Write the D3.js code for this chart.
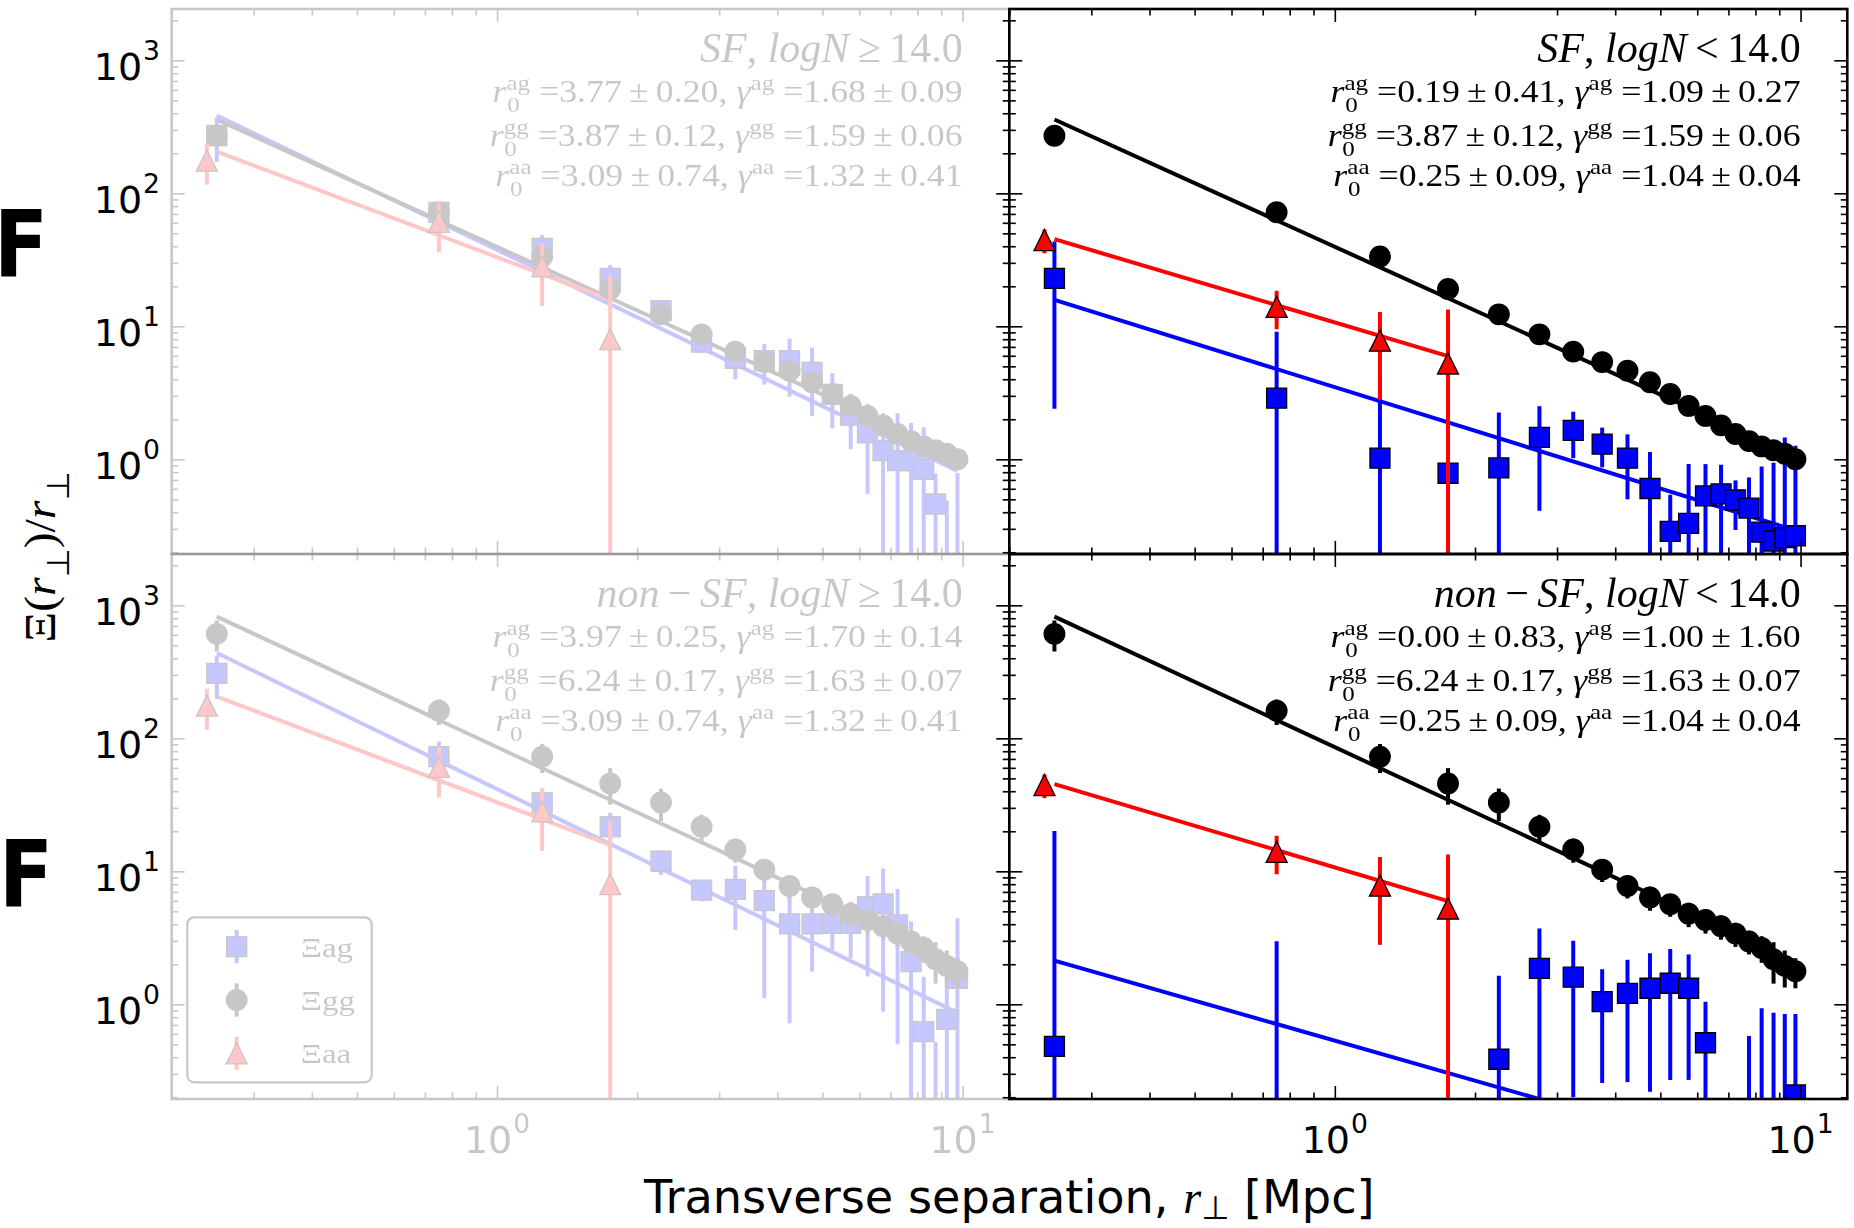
<!DOCTYPE html>
<html>
<head>
<meta charset="utf-8">
<script src="https://cdn.jsdelivr.net/npm/d3@7"></script>
<style>
  html, body { margin: 0; padding: 0; background: #fff; }
  svg { display: block; }
  svg text { white-space: pre; }
</style>
</head>
<body>
<script>
// ---------------------------------------------------------------------------
// Projected cross-correlation Ξ(r⊥)/r⊥ for absorber–galaxy (ag),
// galaxy–galaxy (gg) and absorber–absorber (aa) pairs.
// Panels: [SF, logN≥14] [SF, logN<14] / [non-SF, logN≥14] [non-SF, logN<14]
// ---------------------------------------------------------------------------

// transverse separation bins [Mpc]
const rBins = [0.25, 0.75, 1.25, 1.75, 2.25, 2.75, 3.25, 3.75, 4.25, 4.75,
               5.25, 5.75, 6.25, 6.75, 7.25, 7.75, 8.25, 8.75, 9.25, 9.75];
const rBinsAA = [0.238, 0.75, 1.25, 1.75];

// galaxy–galaxy, SF sample (top row) and non-SF sample (bottom row)
const ggSF     = [271, 72, 33.5, 19.1, 12.3, 8.7, 6.45, 5.38, 4.63, 3.8,
                  3.1, 2.52, 2.12, 1.8, 1.55, 1.37, 1.25, 1.17, 1.1, 1.0];
const ggSFErr  = [30, 6, 3, 1.5, 0.8, 0.5, 0.35, 0.25, 0.2, 0.15,
                  0.12, 0.1, 0.08, 0.07, 0.06, 0.05, 0.05, 0.05, 0.04, 0.04];
const ggNon    = [610, 161, 72.8, 45.7, 32.9, 21.6, 14.6, 10.3, 7.75, 6.35,
                  5.65, 4.8, 4.3, 3.86, 3.4, 2.97, 2.65, 2.18, 1.94, 1.77];
const ggNonErr = [160, 35, 18, 14, 9, 5, 3, 2, 1.5, 1.3,
                  1.1, 1.0, 0.9, 0.8, 0.7, 0.6, 0.6, 0.75, 0.6, 0.45];

// absorber–absorber, high (left column) and low (right column) column density
const aaHigh    = [176, 61, 28.2, 8.0];
const aaHighErr = [60, 25, 14, 16];
const aaLow     = [44.5, 14.0, 7.8, 5.25];
const aaLowErr  = [9, 4.5, 5.0, 8.1];

// absorber–galaxy, one set per panel (null = no measurement)
const agSFHigh     = [272, 72, 38.6, 22.9, 13.1, 7.6, 5.75, 5.51, 5.51, 4.51,
                      3.08, 2.15, 1.58, 1.16, 0.976, 0.976, 0.841, 0.461, 0.1, 0.1];
const agSFHighErr  = [100, 10, 10, 6, 2.4, 1.3, 1.75, 1.86, 2.55, 2.4,
                      1.37, 0.96, 1.03, 1.06, 1.24, 0.9, 0.9, 0.32, 0.39, 0.69];
const agSFLow      = [22.9, 2.88, 1.02, 0.785, 0.861, 1.46, 1.65, 1.30, 1.02, 0.603,
                      0.287, 0.330, 0.53, 0.55, 0.494, 0.43, 0.283, 0.243, 0.258, 0.266];
const agSFLowErr   = [20.5, 6.2, 3.15, 1.84, 1.39, 1.05, 0.63, 0.43, 0.52, 0.53,
                      0.255, 0.59, 0.39, 0.36, 0.2, 0.3, 0.6, 0.7, 1.2, 1.0];
const agNonHigh    = [308, 72.8, 32.7, 21.6, 11.9, 7.23, 7.32, 6.01, 4.02, 4.02,
                      4.06, 4.06, 5.42, 5.68, 3.95, 2.09, 0.622, 0.1, 0.771, 1.57];
const agNonHighErr = [110, 22, 9, 6, 2.5, 1.3, 3.7, 4.9, 3.3, 2.26,
                      1.5, 1.84, 3.8, 4.8, 3.45, 2.1, 0.99, 0.42, 0.75, 2.86];
const agNonLow     = [0.483, 0.1, null, null, 0.386, 1.86, 1.60, 1.046, 1.21, 1.32,
                      1.44, 1.32, 0.514, null, null, 0.1, 0.1, 0.1, 0.1, 0.208];
const agNonLowErr  = [19.6, 2.88, null, null, 1.25, 1.86, 1.40, 0.79, 0.95, 1.1,
                      1.17, 1.05, 0.53, null, null, 0.478, 0.833, 0.765, 0.745, 0.637];

// power-law fits, panel order: SF-high, SF-low, nonSF-high, nonSF-low
const r0Ag     = [3.77, 0.19, 3.97, 0.00];
const r0AgErr  = [0.20, 0.41, 0.25, 0.83];
const gamAg    = [1.68, 1.09, 1.70, 1.00];
const gamAgErr = [0.09, 0.27, 0.14, 1.60];
const r0Gg     = [3.87, 3.87, 6.24, 6.24];
const r0GgErr  = [0.12, 0.12, 0.17, 0.17];
const gamGg    = [1.59, 1.59, 1.63, 1.63];
const gamGgErr = [0.06, 0.06, 0.07, 0.07];
const r0Aa     = [3.09, 0.25, 3.09, 0.25];
const r0AaErr  = [0.74, 0.09, 0.74, 0.09];
const gamAa    = [1.32, 1.04, 1.32, 1.04];
const gamAaErr = [0.41, 0.04, 0.41, 0.04];
// fitted Ξ/r⊥ at the first bin (r⊥ = 0.25 Mpc)
const ampAg = [385, 15.8, 438, 2.13];
const ampGg = [359, 359, 822, 822];
const ampAa = [206, 45.2, 206, 45.2];

// panel labels
const sampleNames = ['SF', 'SF', 'non−SF', 'non−SF'];
const densityCuts = ['≥', '<', '≥', '<'];
const densityLimit = '14.0';

// axis ticks
const xMajor = [1, 10];
const xMinor = [0.2, 0.3, 0.4, 0.5, 0.6, 0.7, 0.8, 0.9, 2, 3, 4, 5, 6, 7, 8, 9];
const xTickExp = ['0', '1'];
const yMajor = [1, 10, 100, 1000];
const yMinor = [0.2, 0.3, 0.4, 0.5, 0.6, 0.7, 0.8, 0.9,
                2, 3, 4, 5, 6, 7, 8, 9, 20, 30, 40, 50, 60, 70, 80, 90,
                200, 300, 400, 500, 600, 700, 800, 900, 2000];
const yTickExp = ['0', '1', '2', '3'];
const legendKeys = ['ag', 'gg', 'aa'];

// ---------------------------------------------------------------------------
const W = 1854, H = 1228;
const SERIF = "'Liberation Serif', 'DejaVu Serif', serif";
const SANS = "'DejaVu Sans', 'Liberation Sans', sans-serif";
const xDomain = [0.2, 12.6];
const yDomain = [0.194, 2432];
const colX = [[171.7, 1009.3], [1009.3, 1847.3]];
const rowY = [[9, 554], [554, 1099]];
const FADE = 0.22;
const COLORS = { ag: '#0000ff', gg: '#000000', aa: '#ff0000' };
const SHAPES = { ag: 'square', gg: 'circle', aa: 'triangle' };

const svg = d3.select('body').append('svg')
  .attr('width', W).attr('height', H)
  .attr('viewBox', `0 0 ${W} ${H}`);
const defs = svg.append('defs');

// lays out a run of text pieces (with optional stacked sub/superscripts)
// starting at x = 0 on the baseline; returns the group and its width
function mathRun(parent, pieces, size, family) {
  const g = parent.append('g');
  let x = 0;
  for (const p of pieces) {
    if (p.gap) { x += p.gap * size; continue; }
    if (p.sup !== undefined || p.sub !== undefined) {
      let w = 0;
      const ss = size * 0.7;
      if (p.sup) {
        const t = g.append('text').attr('x', x).attr('y', -size * 0.40)
          .attr('font-size', ss).attr('font-family', p.fam || SERIF).text(p.sup);
        w = Math.max(w, t.node().getComputedTextLength());
      }
      if (p.sub) {
        const dy = p.subDy !== undefined ? p.subDy : 0.32;
        const t = g.append('text').attr('x', x + (p.subDx || 0) * size).attr('y', size * dy)
          .attr('font-size', ss).attr('font-family', p.fam || SERIF).text(p.sub);
        w = Math.max(w, t.node().getComputedTextLength() + (p.subDx || 0) * size);
      }
      x += w;
      continue;
    }
    const t = g.append('text').attr('x', x)
      .attr('font-size', size)
      .attr('font-family', p.fam || family)
      .attr('font-style', p.it ? 'italic' : 'normal')
      .text(p.t);
    x += t.node().getComputedTextLength();
  }
  return { g, width: x };
}

// right-aligns a run at xr on baseline yb, optionally widened by sx
function placeRight(run, xr, yb, sx = 1) {
  run.g.attr('transform', `translate(${xr - run.width * sx},${yb}) scale(${sx},1)`);
}

function markerPath(shape, size) {
  const h = size / 2;
  if (shape === 'square') return `M${-h},${-h}H${h}V${h}H${-h}Z`;
  if (shape === 'triangle') return `M0,${-h}L${h},${h}L${-h},${h}Z`;
  return d3.symbol().type(d3.symbolCircle).size(Math.PI * h * h)();
}
const MSIZE = { square: 20, circle: 20.6, triangle: 21 };

function styleAxis(sel, color, width) {
  sel.select('.domain').remove();
  sel.selectAll('.tick text').remove();
  sel.selectAll('.tick line').attr('stroke', color).attr('stroke-width', width);
}

function drawTicks(root, x, y, box, color, inoutLeft) {
  const [x0, x1, y0, y1] = box;
  const dom = v => v >= yDomain[0] && v <= yDomain[1];
  const yMin = yMinor.filter(dom);
  const MAJ = 13, MIN = 6.5, TW = 1.6;
  const add = (tx, ty, axis) => root.append('g')
    .attr('transform', `translate(${tx},${ty})`)
    .call(axis).call(s => styleAxis(s, color, TW));
  // left spine (inward)
  add(x0, 0, d3.axisRight(y).tickValues(yMajor).tickSize(MAJ).tickFormat(''));
  add(x0, 0, d3.axisRight(y).tickValues(yMin).tickSize(MIN).tickFormat(''));
  if (inoutLeft) {
    add(x0, 0, d3.axisLeft(y).tickValues(yMajor).tickSize(MAJ).tickFormat(''));
    add(x0, 0, d3.axisLeft(y).tickValues(yMin).tickSize(MIN).tickFormat(''));
  }
  // right spine (inward)
  add(x1, 0, d3.axisLeft(y).tickValues(yMajor).tickSize(MAJ).tickFormat(''));
  add(x1, 0, d3.axisLeft(y).tickValues(yMin).tickSize(MIN).tickFormat(''));
  // top and bottom spines (inward)
  add(0, y0, d3.axisBottom(x).tickValues(xMajor).tickSize(MAJ).tickFormat(''));
  add(0, y0, d3.axisBottom(x).tickValues(xMinor).tickSize(MIN).tickFormat(''));
  add(0, y1, d3.axisTop(x).tickValues(xMajor).tickSize(MAJ).tickFormat(''));
  add(0, y1, d3.axisTop(x).tickValues(xMinor).tickSize(MIN).tickFormat(''));
}

function powerTen(parent, exp, cx, yBase, anchorRight, color) {
  const g = parent.append('g').attr('fill', color);
  const main = g.append('text').attr('font-family', SANS).attr('font-size', 38).text('10');
  const wm = main.node().getComputedTextLength();
  const sup = g.append('text').attr('font-family', SANS).attr('font-size', 26.6)
    .attr('x', wm + 1).attr('y', -20).text(exp);
  const w = wm + 1 + sup.node().getComputedTextLength();
  const left = anchorRight ? cx - w : cx - w / 2;
  g.attr('transform', `translate(${left},${yBase})`);
}

function paramPieces(tag, r0, r0e, g, ge) {
  return [
    { t: 'r', it: true }, { sup: tag, sub: '0', subDx: 0.02 },
    { t: ' =' + r0.toFixed(2) + '\u2009±\u2009' + r0e.toFixed(2) + ', ' },
    { t: 'γ', it: true }, { sup: tag },
    { t: ' =' + g.toFixed(2) + '\u2009±\u2009' + ge.toFixed(2) }
  ];
}

function titlePieces(i) {
  const name = sampleNames[i];
  const pcs = [];
  if (name.startsWith('non')) {
    pcs.push({ t: 'non', it: true }, { t: '\u2009−\u2009' }, { t: 'SF', it: true });
  } else {
    pcs.push({ t: 'SF', it: true });
  }
  pcs.push({ t: ', ' }, { t: 'logN', it: true }, { t: '\u2009' + densityCuts[i] + '\u2009' + densityLimit });
  return pcs;
}

function drawPanel(i) {
  const row = Math.floor(i / 2), col = i % 2;
  const [x0, x1] = colX[col];
  const [y0, y1] = rowY[row];
  const faded = col === 0;
  const x = d3.scaleLog().domain(xDomain).range([x0, x1]);
  const y = d3.scaleLog().domain(yDomain).range([y1, y0]);

  const root = svg.append('g').attr('opacity', faded ? FADE : 1);
  const clipId = 'panel-clip-' + i;
  defs.append('clipPath').attr('id', clipId)
    .append('rect').attr('x', x0).attr('y', y0).attr('width', x1 - x0).attr('height', y1 - y0);
  const plot = root.append('g').attr('clip-path', `url(#${clipId})`);

  const series = [
    { key: 'ag', r: rBins, v: [agSFHigh, agSFLow, agNonHigh, agNonLow][i],
      e: [agSFHighErr, agSFLowErr, agNonHighErr, agNonLowErr][i], amp: ampAg[i], gam: gamAg[i] },
    { key: 'gg', r: rBins, v: [ggSF, ggSF, ggNon, ggNon][i],
      e: [ggSFErr, ggSFErr, ggNonErr, ggNonErr][i], amp: ampGg[i], gam: gamGg[i] },
    { key: 'aa', r: rBinsAA, v: [aaHigh, aaLow, aaHigh, aaLow][i],
      e: [aaHighErr, aaLowErr, aaHighErr, aaLowErr][i], amp: ampAa[i], gam: gamAa[i] }
  ];

  // power-law fits Ξ/r⊥ ∝ r⊥^-γ
  const fitLine = d3.line().x(d => x(d.r)).y(d => y(d.v));
  series.forEach(s => {
    const rEnd = rBins[s.v.length - 1];
    const pts = [rBins[0], rEnd].map(r => ({ r, v: s.amp * Math.pow(r / rBins[0], -s.gam) }));
    plot.append('path').attr('d', fitLine(pts))
      .attr('fill', 'none').attr('stroke', COLORS[s.key]).attr('stroke-width', 4);
  });

  // measurements with error bars
  series.forEach(s => {
    const pts = s.r.map((r, k) => ({ r, v: s.v[k], e: s.e[k] })).filter(d => d.v !== null);
    const gS = plot.append('g');
    gS.selectAll('line').data(pts).join('line')
      .attr('x1', d => x(d.r)).attr('x2', d => x(d.r))
      .attr('y1', d => y(d.v - d.e > 0 ? d.v - d.e : yDomain[0] / 10))
      .attr('y2', d => y(d.v + d.e))
      .attr('stroke', COLORS[s.key]).attr('stroke-width', 4);
    const shape = SHAPES[s.key];
    gS.selectAll('path').data(pts).join('path')
      .attr('d', markerPath(shape, MSIZE[shape]))
      .attr('transform', d => `translate(${x(d.r)},${y(d.v)})`)
      .attr('fill', COLORS[s.key]).attr('stroke', '#000').attr('stroke-width', 1.3);
  });

  // spines and ticks
  const spineColor = '#000';
  drawTicks(root, x, y, [x0, x1, y0, y1], spineColor, !faded);
  root.append('rect').attr('x', x0).attr('y', y0).attr('width', x1 - x0).attr('height', y1 - y0)
    .attr('fill', 'none').attr('stroke', spineColor).attr('stroke-width', 2.6);

  // labels inside the panel
  const xr = x1 - 46.6;
  const title = mathRun(root, titlePieces(i), 42, SERIF);
  placeRight(title, xr, y0 + 52.7);
  const pr = [
    paramPieces('ag', r0Ag[i], r0AgErr[i], gamAg[i], gamAgErr[i]),
    paramPieces('gg', r0Gg[i], r0GgErr[i], gamGg[i], gamGgErr[i]),
    paramPieces('aa', r0Aa[i], r0AaErr[i], gamAa[i], gamAaErr[i])
  ];
  const pBase = [93, 137, 177];
  pr.forEach((p, k) => placeRight(mathRun(root, p, 31, SERIF), xr, y0 + pBase[k], 1.155));

  // x tick labels along the bottom row
  if (row === 1) {
    xMajor.forEach((v, k) => powerTen(root, xTickExp[k], x(v), 1153, false, '#000'));
  }
  // y tick labels on the left column (drawn at full strength)
  if (col === 0) {
    yMajor.forEach((v, k) => powerTen(svg, yTickExp[k], x0 - 11.7, y(v) + 19.7, true, '#000'));
  }

  // legend in the lower-left panel
  if (i === 2) {
    const lg = root.append('g');
    lg.append('rect').attr('x', x0 + 15.6).attr('y', y1 - 181.7)
      .attr('width', 184.4).attr('height', 165).attr('rx', 7)
      .attr('fill', '#fff').attr('stroke', '#000').attr('stroke-width', 2.2);
    const rows = [y1 - 152.3, y1 - 99, y1 - 45.7];
    legendKeys.forEach((key, k) => {
      const mx = x0 + 65, my = rows[k];
      lg.append('line').attr('x1', mx).attr('x2', mx).attr('y1', my - 16.7).attr('y2', my + 16.7)
        .attr('stroke', COLORS[key]).attr('stroke-width', 4);
      const shape = SHAPES[key];
      lg.append('path').attr('d', markerPath(shape, MSIZE[shape]))
        .attr('transform', `translate(${mx},${my})`)
        .attr('fill', COLORS[key]).attr('stroke', '#000').attr('stroke-width', 1.3);
      const run = mathRun(lg, [{ t: 'Ξ' }, { t: key }], 28, SERIF);
      run.g.attr('transform', `translate(${x0 + 129},${my + 10}) scale(1.18,1)`);
    });
  }
}

[0, 2, 1, 3].forEach(drawPanel);

// side letters
svg.append('text').attr('transform', 'translate(-6,276.7) scale(0.86,1)')
  .attr('font-family', SANS).attr('font-weight', 'bold').attr('font-size', 92).text('F');
svg.append('text').attr('transform', 'translate(-1,906.7) scale(0.86,1)')
  .attr('font-family', SANS).attr('font-weight', 'bold').attr('font-size', 92).text('F');

// x-axis label
{
  const run = mathRun(svg, [
    { t: 'Transverse separation, ', fam: SANS },
    { t: 'r', it: true, fam: SERIF }, { sub: '⊥', fam: SANS, subDy: 0.14 },
    { t: ' [Mpc]', fam: SANS }
  ], 46.2, SANS);
  run.g.attr('transform', `translate(${1009.3 - run.width / 2},1213)`);
}

// y-axis label
{
  const holder = svg.append('g').attr('transform', 'translate(55,557) rotate(-90)');
  const run = mathRun(holder, [
    { t: 'Ξ' }, { t: '(' }, { t: 'r', it: true }, { sub: '⊥', fam: SANS }, { t: ')/' },
    { t: 'r', it: true }, { sub: '⊥', fam: SANS }
  ], 45, SERIF);
  run.g.attr('transform', `translate(${-run.width * 1.06 / 2},0) scale(1.06,1)`);
}
</script>
</body>
</html>
